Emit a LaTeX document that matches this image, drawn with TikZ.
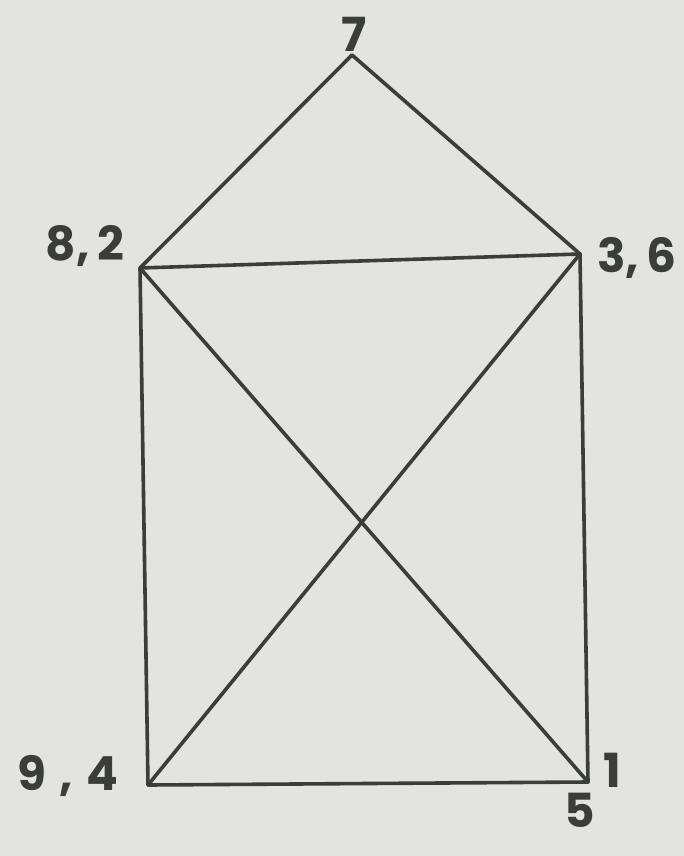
\documentclass[tikz,border=0pt]{standalone}
\usepackage{fontspec}
\setmainfont{Poppins}
\definecolor{paper}{HTML}{E3E3DF}
\definecolor{ink}{HTML}{3A3D38}
\begin{document}
\begin{tikzpicture}[x=1pt,y=-1pt,
  edge/.style={draw=ink,line width=3.6pt,line cap=round,line join=round},
  lbl/.style={text=ink,font=\fontsize{47}{47}\selectfont\bfseries,inner sep=0pt}]
\fill[paper] (0,0) rectangle (684,856);
\useasboundingbox (0,0) rectangle (684,856);
\coordinate (v7) at (352,55);
\coordinate (v82) at (140,268);
\coordinate (v36) at (580,254);
\coordinate (v94) at (148,785);
\coordinate (v51) at (588,782);
\draw[edge] (v82) -- (v7) -- (v36);
\draw[edge] (v82) -- (v36) -- (v51) -- (v94) -- cycle;
\draw[edge] (v82) -- (v51);
\draw[edge] (v94) -- (v36);
\node[lbl] (l7) at (354,34) {7};
\node[lbl] (l82) at (85,246) {8,\,2};
\node[lbl] (l36) at (637,258) {3,\,6};
\node[lbl] (l94) at (68,776) {9\;,\;4};
\node[lbl] (l1) at (612,770) {1};
\node[lbl] (l5) at (580,810) {5};
\end{tikzpicture}
\end{document}
